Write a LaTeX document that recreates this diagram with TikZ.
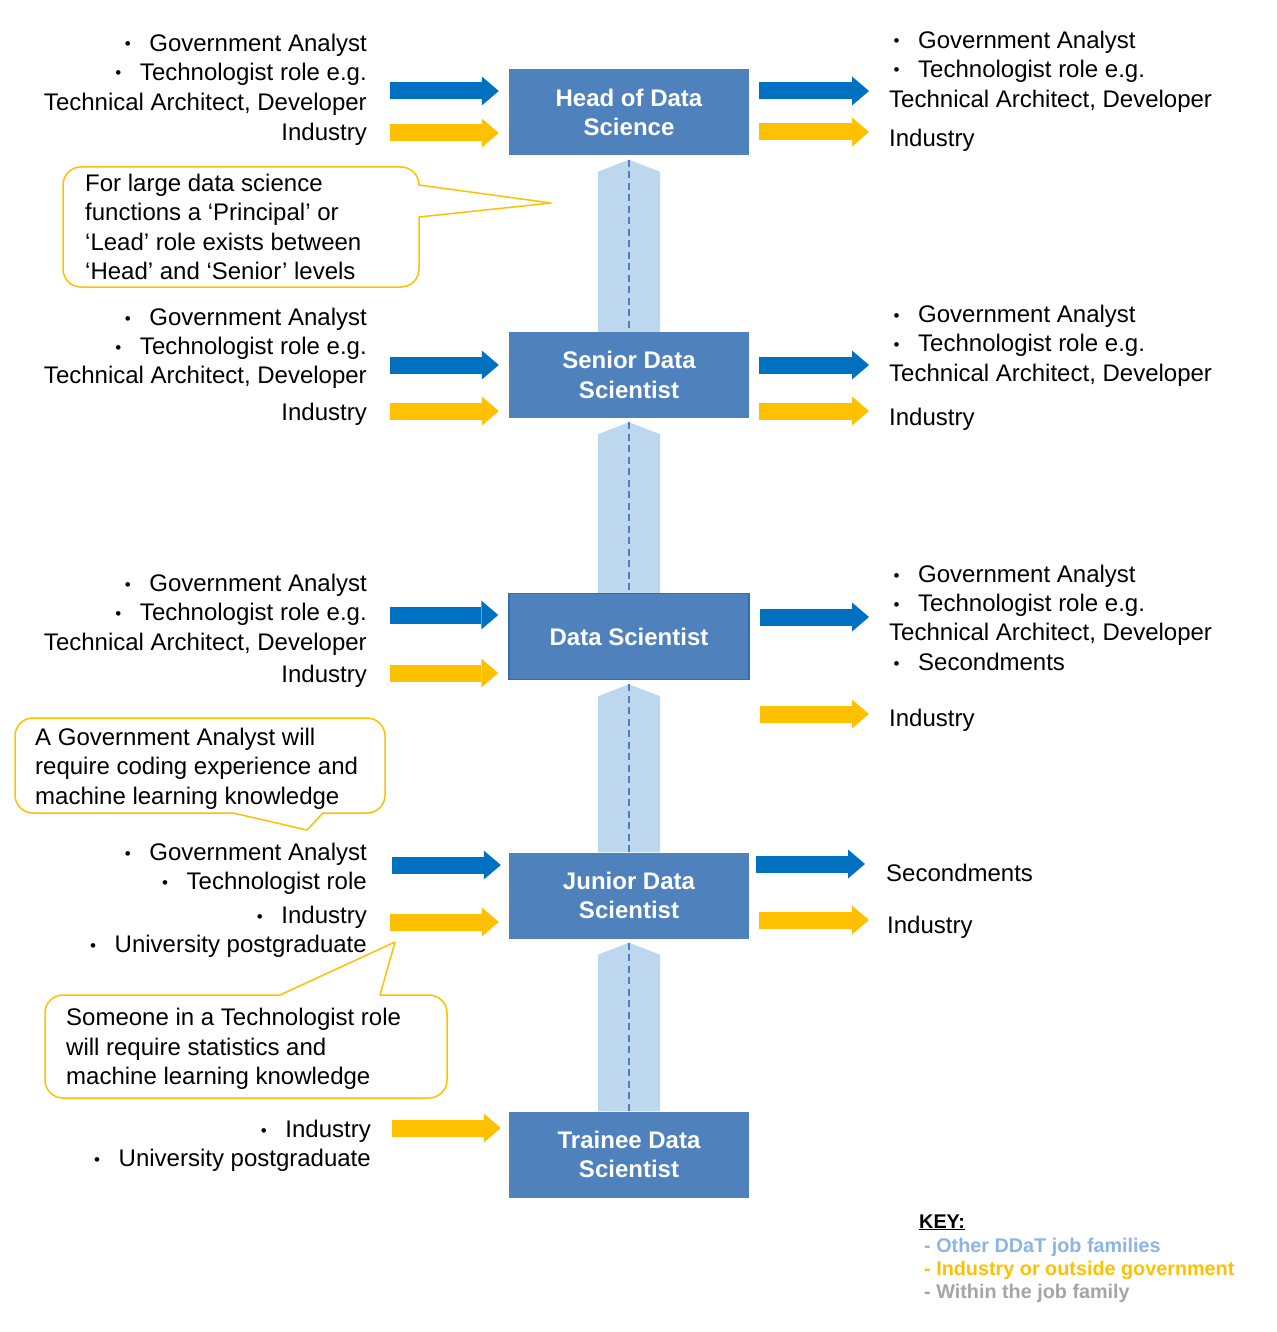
\documentclass[tikz,border=0pt]{standalone}
\usepackage{fontspec}
\setmainfont{Liberation Sans}
\usetikzlibrary{arrows.meta,calc}
\definecolor{boxblue}{HTML}{4F81BD}
\definecolor{boxedge}{HTML}{2F6DB5}
\definecolor{arrblue}{HTML}{0070C0}
\definecolor{arryel}{HTML}{FFC000}
\definecolor{connblue}{HTML}{BDD7EE}
\definecolor{dashblue}{HTML}{4F7EBF}
\definecolor{keyblue}{HTML}{8DB4E2}
\definecolor{keygrey}{HTML}{A5A5A5}
\newcommand\bul{\makebox[29pt][l]{\hspace{4.5pt}\raisebox{1.5pt}{\fontsize{17}{17}\selectfont\textbullet}}}
\newcommand\Ltx[4]{\node[lt] (#1) at (#2,#3+8.5) {#4};}
\newcommand\Rtx[4]{\node[rt] (#1) at (#2,#3+8.5) {#4};}
\newcommand\Ctx[4]{\node[rt] (#1) at (#2,#3+8.5) {#4};}
\begin{document}
\begin{tikzpicture}[x=1pt,y=-1pt,
 txt/.style={font=\fontsize{24}{29.5}\selectfont,inner sep=0pt,text=black},
 lt/.style={txt,anchor=base east},
 rt/.style={txt,anchor=base west},
 role/.style={fill=boxblue,text=white,font=\fontsize{24}{29.5}\selectfont\bfseries,align=center,minimum width=240pt,minimum height=86pt,inner sep=0pt},
 barr/.style={draw=arrblue,line width=17pt,line cap=butt,-{Triangle[length=17pt,width=29pt,line width=0pt]}},
 yarr/.style={draw=arryel,line width=17pt,line cap=butt,-{Triangle[length=17pt,width=29pt,line width=0pt]}},
 conn/.style={fill=connblue},
 axisline/.style={draw=dashblue,line width=1.3pt,dash pattern=on 7pt off 4.5pt},
 callout/.style={draw=arryel,line width=1.5pt,fill=white,line join=round},
 keytxt/.style={font=\fontsize{19.8}{23}\selectfont\bfseries,inner sep=0pt,anchor=base west}]
\useasboundingbox (0,0) rectangle (1276,1332);

% role boxes
\node[role] (head) at (629,112.5) {Head of Data\\Science};
\node[role] (senior) at (629,375) {Senior Data\\Scientist};
\node[role,draw=boxedge,line width=1.5pt] (ds) at (629,636.5) {Data Scientist};
\node[role] (junior) at (629,895.5) {Junior Data\\Scientist};
\node[role] (trainee) at (629,1154.5) {Trainee Data\\Scientist};

% vertical progression connectors
\foreach \u/\l in {head/senior,senior/ds,ds/junior,junior/trainee}{
  \fill[conn] ($(\u.south)+(0,4)$) -- ($(\u.south)+(31,16)$) -- ($(\l.north)+(31,0)$)
     -- ($(\l.north)+(-31,0)$) -- ($(\u.south)+(-31,16)$) -- cycle;
  \draw[axisline] ($(\u.south)+(0,4)$) -- (\l.north);
}

% callouts
\draw[callout] (81,167) -- (401,167) arc[start angle=-90,end angle=0,radius=18]
  -- (551,203) -- (419,217) -- (419,269) arc[start angle=0,end angle=90,radius=18]
  -- (81,287) arc[start angle=90,end angle=180,radius=18]
  -- (63,185) arc[start angle=180,end angle=270,radius=18] -- cycle;
\draw[callout] (33,718) -- (367,718) arc[start angle=-90,end angle=0,radius=18]
  -- (385,795) arc[start angle=0,end angle=90,radius=18]
  -- (323,813) -- (307,830) -- (233,813)
  -- (33,813) arc[start angle=90,end angle=180,radius=18]
  -- (15,736) arc[start angle=180,end angle=270,radius=18] -- cycle;
\draw[callout] (63,995) -- (280,995) -- (395,942) -- (380,995)
  -- (429,995) arc[start angle=-90,end angle=0,radius=18]
  -- (447,1080) arc[start angle=0,end angle=90,radius=18]
  -- (63,1098) arc[start angle=90,end angle=180,radius=18]
  -- (45,1013) arc[start angle=180,end angle=270,radius=18] -- cycle;

\Ctx{c1a}{85}{183}{For large data science}
\Ctx{c1b}{85}{212}{functions a ‘Principal’ or}
\Ctx{c1c}{85}{242}{‘Lead’ role exists between}
\Ctx{c1d}{85}{271}{‘Head’ and ‘Senior’ levels}
\Ctx{c2a}{35}{737}{A Government Analyst will}
\Ctx{c2b}{35}{766}{require coding experience and}
\Ctx{c2c}{35}{796}{machine learning knowledge}
\Ctx{c3a}{66}{1017}{Someone in a Technologist role}
\Ctx{c3b}{66}{1047}{will require statistics and}
\Ctx{c3c}{66}{1076}{machine learning knowledge}

% ---- Head of Data Science
\Ltx{hl1}{367}{43}{\bul Government Analyst}
\Ltx{hl2}{367}{72}{\bul Technologist role e.g.}
\Ltx{hl3}{367}{102}{Technical Architect, Developer}
\Ltx{hl4}{367}{132}{Industry}
\Rtx{hr1}{889}{40}{\bul Government Analyst}
\Rtx{hr2}{889}{69}{\bul Technologist role e.g.}
\Rtx{hr3}{889}{99}{Technical Architect, Developer}
\Rtx{hr4}{889}{138}{Industry}
\coordinate (hLb) at (390,91);
\coordinate (hLy) at (390,133);
\coordinate (hRb) at (869,91);
\coordinate (hRy) at (869,132);
\draw[barr,shorten >=10pt] (hLb) -- (hLb -| head.west);
\draw[yarr,shorten >=10pt] (hLy) -- (hLy -| head.west);
\draw[barr,shorten <=10pt] (hRb -| head.east) -- (hRb);
\draw[yarr,shorten <=10pt] (hRy -| head.east) -- (hRy);

% ---- Senior Data Scientist
\Ltx{sl1}{367}{317}{\bul Government Analyst}
\Ltx{sl2}{367}{346}{\bul Technologist role e.g.}
\Ltx{sl3}{367}{375}{Technical Architect, Developer}
\Ltx{sl4}{367}{412}{Industry}
\Rtx{sr1}{889}{314}{\bul Government Analyst}
\Rtx{sr2}{889}{343}{\bul Technologist role e.g.}
\Rtx{sr3}{889}{373}{Technical Architect, Developer}
\Rtx{sr4}{889}{417}{Industry}
\coordinate (sLb) at (390,365);
\coordinate (sLy) at (390,411);
\coordinate (sRb) at (869,365);
\coordinate (sRy) at (869,411);
\draw[barr,shorten >=10pt] (sLb) -- (sLb -| senior.west);
\draw[yarr,shorten >=10pt] (sLy) -- (sLy -| senior.west);
\draw[barr,shorten <=10pt] (sRb -| senior.east) -- (sRb);
\draw[yarr,shorten <=10pt] (sRy -| senior.east) -- (sRy);

% ---- Data Scientist
\Ltx{dl1}{367}{583}{\bul Government Analyst}
\Ltx{dl2}{367}{612}{\bul Technologist role e.g.}
\Ltx{dl3}{367}{642}{Technical Architect, Developer}
\Ltx{dl4}{367}{674}{Industry}
\Rtx{dr1}{889}{574}{\bul Government Analyst}
\Rtx{dr2}{889}{603}{\bul Technologist role e.g.}
\Rtx{dr3}{889}{632}{Technical Architect, Developer}
\Rtx{dr4}{889}{662}{\bul Secondments}
\Rtx{dr5}{889}{718}{Industry}
\coordinate (dLb) at (390,615);
\coordinate (dLy) at (390,673);
\coordinate (dRb) at (869,617);
\coordinate (dRy) at (869,714);
\draw[barr,shorten >=10pt] (dLb) -- (dLb -| ds.west);
\draw[yarr,shorten >=10pt] (dLy) -- (dLy -| ds.west);
\draw[barr,shorten <=10pt] (dRb -| ds.east) -- (dRb);
\draw[yarr,shorten <=10pt] (dRy -| ds.east) -- (dRy);

% ---- Junior Data Scientist
\Ltx{jl1}{367}{852}{\bul Government Analyst}
\Ltx{jl2}{367}{881}{\bul Technologist role}
\Ltx{jl3}{367}{915}{\bul Industry}
\Ltx{jl4}{367}{944}{\bul University postgraduate}
\Rtx{jr1}{886}{873}{Secondments}
\Rtx{jr2}{887}{925}{Industry}
\coordinate (jLb) at (392,865);
\coordinate (jLy) at (390,922);
\coordinate (jRb) at (865,864);
\coordinate (jRy) at (869,920);
\draw[barr,shorten >=8pt] (jLb) -- (jLb -| junior.west);
\draw[yarr,shorten >=10pt] (jLy) -- (jLy -| junior.west);
\draw[barr,shorten <=7pt] (jRb -| junior.east) -- (jRb);
\draw[yarr,shorten <=10pt] (jRy -| junior.east) -- (jRy);

% ---- Trainee Data Scientist
\Ltx{tl1}{371}{1129}{\bul Industry}
\Ltx{tl2}{371}{1158}{\bul University postgraduate}
\coordinate (tLy) at (392,1128);
\draw[yarr,shorten >=8pt] (tLy) -- (tLy -| trainee.west);

% ---- key
\node[keytxt] (k0) at (919,1228) {\underline{KEY:}};
\node[keytxt,text=keyblue] (k1) at (924,1252) {- Other DDaT job families};
\node[keytxt,text=arryel] (k2) at (924,1275) {- Industry or outside government};
\node[keytxt,text=keygrey] (k3) at (924,1298) {- Within the job family};
\end{tikzpicture}
\end{document}
